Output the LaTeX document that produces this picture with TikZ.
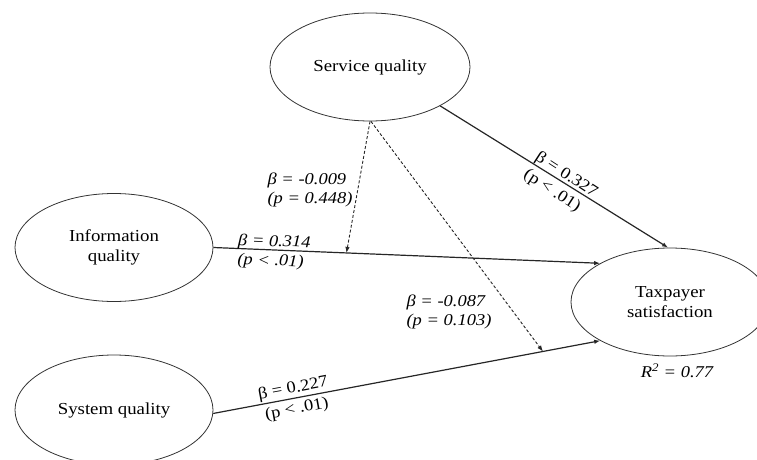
\documentclass[tikz,border=0pt]{standalone}
\usepackage{fontspec}
\setmainfont{Liberation Serif}[FakeStretch=1.12]
\usetikzlibrary{shapes.geometric,arrows.meta,calc}
\begin{document}
\begin{tikzpicture}[x=1pt,y=-1pt,
  latent/.style={draw=black!80, line width=0.8pt, ellipse, minimum width=198pt, minimum height=108pt, inner sep=0pt, font=\fontsize{16.8}{20}\selectfont, align=center},
  pathline/.style={draw=black!85, line width=1.2pt, -{Latex[length=6pt,width=4.5pt]}},
  modline/.style={draw=black!85, line width=0.9pt, dash pattern=on 3pt off 2pt, -{Latex[length=6pt,width=4.5pt]}},
  coef/.style={font=\fontsize{16.5}{19.5}\selectfont\itshape, align=left, inner sep=0pt},
  coefup/.style={font=\fontsize{16.5}{21}\selectfont, align=left, inner sep=0pt},
]
\useasboundingbox (0,0) rectangle (757,460);
\clip (0,0) rectangle (757,460);

\node[latent, minimum width=200pt] (sq) at (370,67) {Service quality};
\node[latent] (iq) at (114,247.5) {Information\\quality};
\node[latent, minimum height=110pt] (sys) at (114,410) {System quality};
\node[latent] (ts) at (670,302) {Taxpayer\\satisfaction};

\draw[pathline] (sq.-29) -- (ts.92);
\draw[pathline] (iq.east) -- (ts.151);
\draw[pathline] (sys.-2) -- (ts.209);

\coordinate (m1) at ($(iq.east)!0.344!(ts.151)$);
\coordinate (m2) at ($(sys.-2)!0.852!(ts.209)$);
\draw[modline] (sq.-90) -- (m1);
\draw[modline] (sq.-89) -- (m2);

\node[coef] (l1) at (310,190) {β = -0.009\\(p = 0.448)};
\node[coef, rotate=-2] (l2) at (274,252) {β = 0.314\\(p < .01)};
\node[coefup, rotate=-33] (l3) at (560.5,184) {β = 0.327\\(p < .01)};
\node[coefup, align=center, rotate=10.5] (l4) at (295,399) {β = 0.227\\(p < .01)};
\node[coef] (l5) at (449,312) {β = -0.087\\(p = 0.103)};
\node[coef] (r2) at (677,371) {R\textsuperscript{2} = 0.77};
\end{tikzpicture}
\end{document}
